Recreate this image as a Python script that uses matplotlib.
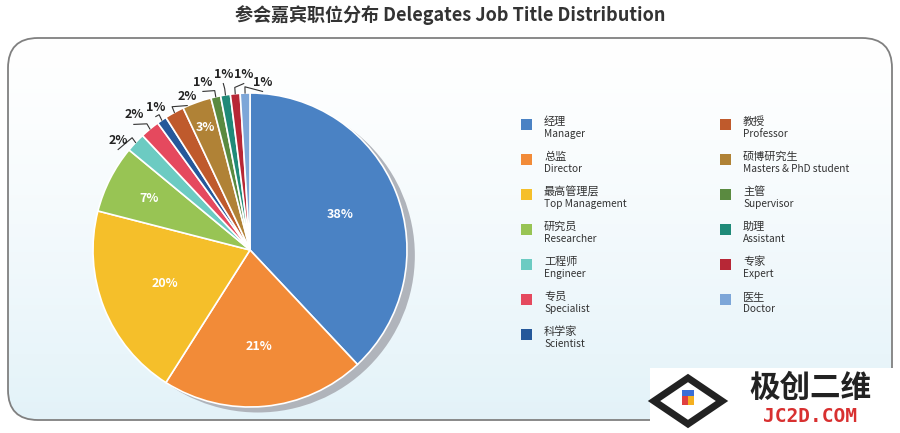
import matplotlib
matplotlib.use("Agg")
import matplotlib.pyplot as plt
import numpy as np
from matplotlib.patches import FancyBboxPatch, Circle, Rectangle, Polygon

plt.rcParams['font.family'] = ['Noto Sans CJK SC', 'DejaVu Sans']

# data
names_cn = ['经理', '总监', '最高管理层', '研究员', '工程师', '专员', '科学家',
            '教授', '硕博研究生', '主管', '助理', '专家', '医生']
names_en = ['Manager', 'Director', 'Top Management', 'Researcher', 'Engineer',
            'Specialist', 'Scientist', 'Professor', 'Masters & PhD student',
            'Supervisor', 'Assistant', 'Expert', 'Doctor']
shares = [38, 21, 20, 7, 2, 2, 1, 2, 3, 1, 1, 1, 1]
colors = ['#4a82c4', '#f28b38', '#f5bf2a', '#98c454', '#6ccbc2', '#e5495e',
          '#25589a', '#bf5a2c', '#b08236', '#5a8a40', '#1f8a78', '#b72736',
          '#7da6d8']
inside = [True, True, True, True, False, False, False, False, True,
          False, False, False, False]
# outside label spots (pie units)
outside_pos = {4: (-0.84, 0.70), 5: (-0.74, 0.86), 6: (-0.60, 0.91),
               7: (-0.40, 0.98), 9: (-0.30, 1.07),
               10: (-0.17, 1.12), 11: (-0.04, 1.12), 12: (0.08, 1.07)}
inside_r = {0: 0.62, 1: 0.62, 2: 0.58, 3: 0.72, 8: 0.83}

W, H = 900, 433
fig = plt.figure(figsize=(W / 100, H / 100), dpi=100)
fig.patch.set_facecolor('white')

# background layer in pixel units
bg = fig.add_axes([0, 0, 1, 1])
bg.set_xlim(0, W)
bg.set_ylim(H, 0)
bg.axis('off')
grad = np.linspace(0, 1, 200).reshape(-1, 1)
top_c = np.array([1.0, 1.0, 1.0])
bot_c = np.array([0.89, 0.95, 0.975])
img = top_c + (bot_c - top_c) * grad[:, :, None] ** 1.3
box = FancyBboxPatch((8, 38), 884, 382, boxstyle="round,pad=0,rounding_size=30",
                     facecolor='none', edgecolor='#808080', lw=1.3, zorder=3)
bg.add_patch(box)
im = bg.imshow(img, extent=(8, 892, 420, 38), aspect='auto', zorder=1)
im.set_clip_path(box)

bg.text(450, 15, '参会嘉宾职位分布 Delegates Job Title Distribution',
        ha='center', va='center', fontsize=13, fontweight='bold', color='#333333')

# legend
for i, (cn, en, c) in enumerate(zip(names_cn, names_en, colors)):
    col = 0 if i < 7 else 1
    row = i if i < 7 else i - 7
    x0 = 526 if col == 0 else 725
    y0 = 124 + row * 35
    bg.add_patch(Rectangle((x0 - 5.5, y0 - 5.5), 11, 11, facecolor=c, edgecolor='none', zorder=4))
    bg.text(x0 + 18, y0 - 2, cn, fontsize=8, va='center', ha='left', color='#333333', zorder=4)
    bg.text(x0 + 18, y0 + 10, en, fontsize=7.3, va='center', ha='left', color='#333333', zorder=4)

# watermark
bg.add_patch(Rectangle((650, 368), 250, 65, facecolor='white', edgecolor='none', zorder=6))
bg.add_patch(Polygon([(688, 378), (722, 401), (688, 424), (654, 401)], closed=True,
                     facecolor='none', edgecolor='#222222', lw=5, zorder=7))
bg.add_patch(Rectangle((682, 396), 6, 9, facecolor='#e04040', zorder=8))
bg.add_patch(Rectangle((688, 396), 6, 9, facecolor='#f5b020', zorder=8))
bg.add_patch(Rectangle((682, 390), 12, 6, facecolor='#3a6fd8', zorder=8))
bg.text(810, 388, '极创二维', fontsize=22, fontweight='bold', ha='center', va='center',
        color='#222222', zorder=8)
bg.text(810, 417, 'JC2D.COM', fontsize=14, fontweight='bold', ha='center', va='center',
        color='#d83030', family='DejaVu Sans Mono', zorder=8)

# pie
cx, cy, r = 250, 250, 157
ax = fig.add_axes([(cx - r) / W, (H - cy - r) / H, 2 * r / W, 2 * r / H])
ax.set_zorder(2)
ax.patch.set_alpha(0)
ax.add_patch(Circle((0.05, -0.035), 1.0, facecolor='#b0b4bb', edgecolor='none', zorder=0,
                    clip_on=False))
wedges, _ = ax.pie(shares, colors=colors, startangle=90, counterclock=False,
                   radius=1.0, wedgeprops=dict(edgecolor='white', linewidth=1.2))
ax.set_xlim(-1, 1)
ax.set_ylim(-1, 1)
ax.set_aspect('equal')
ax.axis('off')
for w in wedges:
    w.set_clip_on(False)

for i, (w, v) in enumerate(zip(wedges, shares)):
    mid = np.deg2rad((w.theta1 + w.theta2) / 2)
    if inside[i]:
        rr = inside_r[i]
        ax.text(rr * np.cos(mid), rr * np.sin(mid), f'{v}%', ha='center', va='center',
                color='white', fontsize=9, fontweight='bold')
    else:
        lx, ly = outside_pos[i]
        ex, ey = np.cos(mid), np.sin(mid)
        # short leader from rim to the label
        tx = lx + 0.07 if lx < ex - 0.12 else lx
        ty = ly - 0.01 if lx < ex - 0.12 else ly - 0.06
        ax.plot([ex, ex * 1.03, tx], [ey, ey * 1.03 + 0.01, ty],
                color='#333333', lw=0.8, clip_on=False)
        ax.text(lx, ly, f'{v}%', ha='center', va='center', color='#222222',
                fontsize=9, fontweight='bold', clip_on=False)

fig.savefig('out.png', dpi=100)
